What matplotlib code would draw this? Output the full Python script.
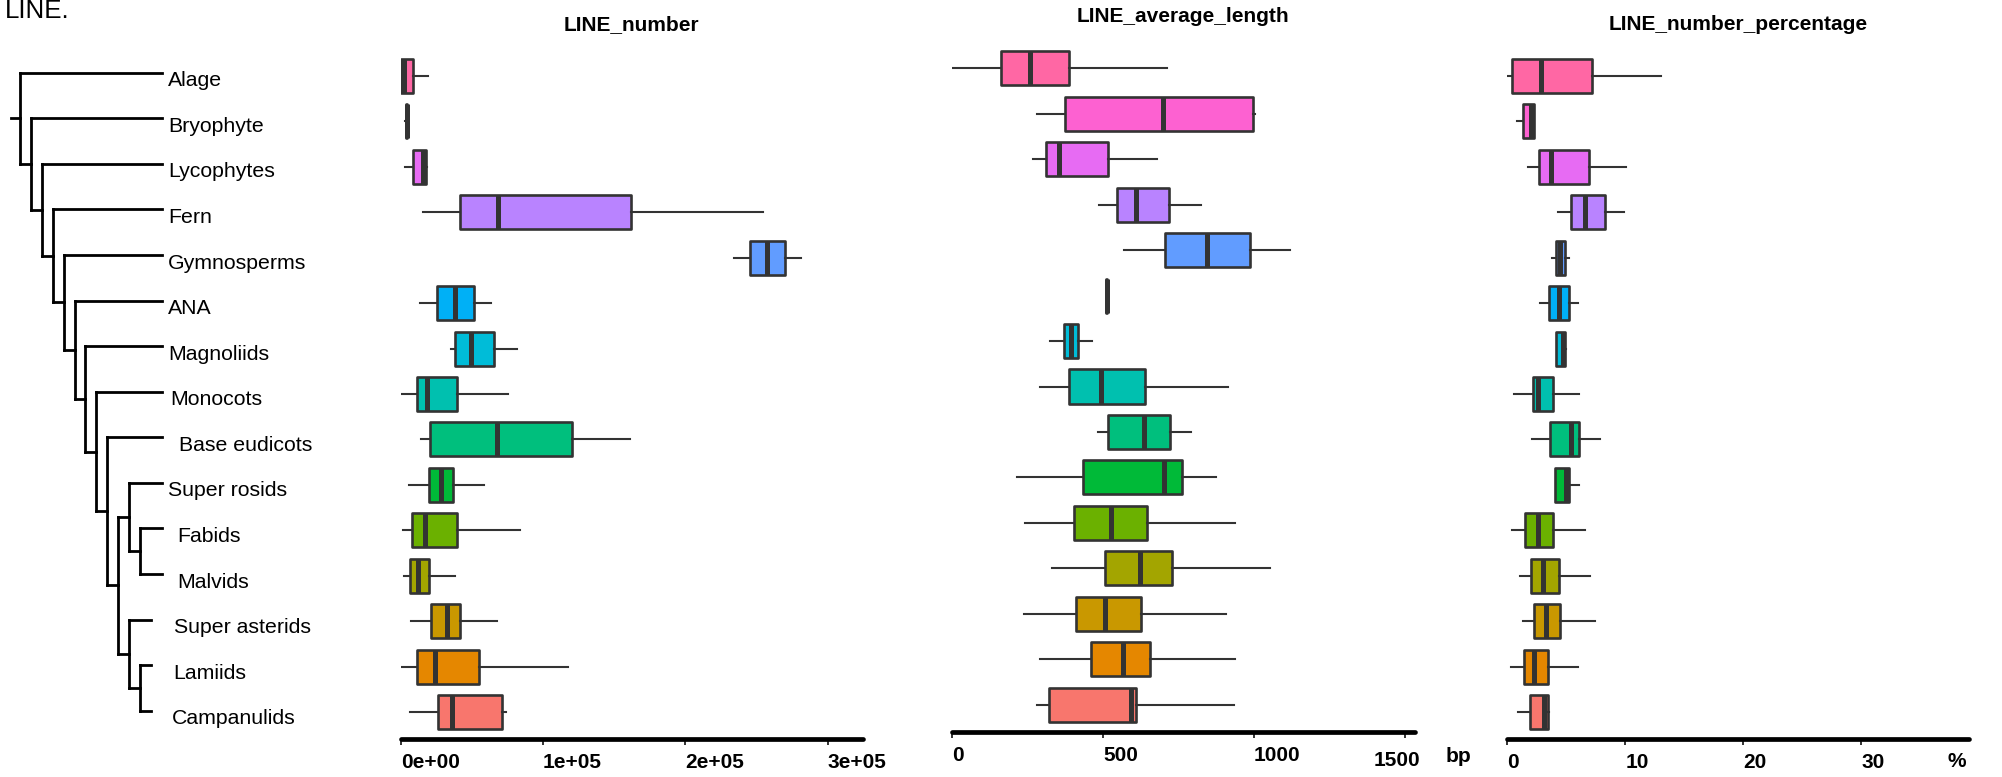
import numpy as np
import matplotlib.pyplot as plt

plt.rcParams['font.family'] = ['Liberation Sans', 'DejaVu Sans']

W, H = 2002, 777

clades = ["Alage", "Bryophyte", "Lycophytes", "Fern", "Gymnosperms", "ANA",
          "Magnoliids", "Monocots", "Base eudicots", "Super rosids", "Fabids",
          "Malvids", "Super asterids", "Lamiids", "Campanulids"]

colors = ["#FF67A4", "#FD61D1", "#E76BF3", "#B983FF", "#619CFF", "#00B0F6",
          "#00BCD8", "#00C0AF", "#00BF7D", "#00BA38", "#6BB100", "#A3A500",
          "#C99800", "#E58700", "#F8766D"]

# species tree (cladogram)
tree = ("Alage",
        ("Bryophyte",
         ("Lycophytes",
          ("Fern",
           ("Gymnosperms",
            ("ANA",
             ("Magnoliids",
              ("Monocots",
               ("Base eudicots",
                (("Super rosids", ("Fabids", "Malvids")),
                 ("Super asterids", ("Lamiids", "Campanulids"))))))))))))
short_tips = ["Super asterids", "Lamiids", "Campanulids"]

# box stats per clade: (whisker low, q1, median, q3, whisker high)
line_number = [
    (0, 500, 2000, 8500, 19500),
    (3300, 3500, 4300, 4600, 4800),
    (3000, 8600, 15900, 17800, 18700),
    (15900, 41600, 68500, 161700, 254200),
    (234300, 245300, 257500, 269900, 280900),
    (13600, 25700, 38400, 51500, 63200),
    (35300, 37900, 49200, 65800, 81900),
    (700, 11400, 18700, 39500, 75400),
    (14000, 20600, 67600, 120500, 160800),
    (6100, 19900, 28100, 36500, 58300),
    (1900, 8200, 17300, 39500, 84000),
    (2600, 6600, 12400, 20100, 37900),
    (7200, 21300, 32500, 41600, 67600),
    (400, 11200, 24100, 55200, 117500),
    (6500, 26000, 36000, 71100, 73700),
]

line_avg_length = [
    (2, 163, 260, 388, 712),
    (283, 374, 698, 996, 1004),
    (269, 310, 354, 517, 678),
    (487, 546, 610, 718, 824),
    (570, 707, 846, 986, 1121),
    (510, 511, 513, 515, 516),
    (325, 370, 394, 418, 463),
    (293, 387, 493, 639, 913),
    (483, 518, 635, 721, 793),
    (214, 433, 703, 761, 875),
    (243, 405, 528, 647, 938),
    (331, 506, 622, 729, 1052),
    (240, 412, 508, 625, 908),
    (290, 462, 565, 656, 937),
    (283, 321, 594, 608, 933),
]

line_pct = [
    (0.1, 0.4, 2.9, 7.2, 13.0),
    (0.8, 1.3, 2.0, 2.3, 2.3),
    (1.75, 2.7, 3.7, 6.9, 10.1),
    (4.3, 5.4, 6.6, 8.3, 9.9),
    (3.8, 4.1, 4.45, 4.9, 5.2),
    (2.8, 3.5, 4.4, 5.25, 6.0),
    (4.1, 4.1, 4.7, 4.9, 5.0),
    (0.6, 2.2, 2.65, 3.9, 6.1),
    (2.1, 3.6, 5.4, 6.1, 7.9),
    (4.05, 4.05, 5.0, 5.2, 6.1),
    (0.4, 1.5, 2.6, 3.85, 6.55),
    (1.05, 2.0, 3.05, 4.4, 7.05),
    (1.35, 2.3, 3.25, 4.45, 7.4),
    (0.3, 1.4, 2.3, 3.45, 6.0),
    (0.9, 1.9, 3.15, 3.45, 3.5),
]

number_ticks = [0, 100000, 200000, 300000]
number_labels = ["0e+00", "1e+05", "2e+05", "3e+05"]
length_ticks = [0, 500, 1000, 1500]
length_labels = ["0", "500", "1000", ""]
pct_ticks = [0, 10, 20, 30]
pct_labels = ["0", "10", "20", "30"]


def px_box(left, top, right, bottom):
    return [left / W, 1 - bottom / H, (right - left) / W, (bottom - top) / H]


fig = plt.figure(figsize=(W / 100, H / 100), dpi=100)

fig.text(5 / W, 1 - 18.3 / H, "LINE.", fontsize=18.7, ha="left", va="baseline")

# ---- tree ----
tax = fig.add_axes(px_box(0, 0, 300, H))
step = 10.9
tax.set_xlim(-20 / step, (300 - 20) / step)
tax.set_ylim((H - 72.7) / 45.57, -72.7 / 45.57)
tax.axis("off")
tip_depth = 13
tree_kw = dict(color="black", lw=2.0, solid_capstyle="projecting")


def draw_clade(node, depth):
    if isinstance(node, str):
        return clades.index(node)
    ys = []
    for child in node:
        y = draw_clade(child, depth + 1)
        if isinstance(child, str):
            x_end = tip_depth - (1 if child in short_tips else 0)
        else:
            x_end = depth + 1
        tax.plot([depth, x_end], [y, y], **tree_kw)
        ys.append(y)
    tax.plot([depth, depth], [min(ys), max(ys)], **tree_kw)
    return float(np.mean(ys))


root_y = draw_clade(tree, 0)
tax.plot([-0.83, 0], [root_y, root_y], **tree_kw)

nudge = {"Base eudicots": 8, "Fabids": 7, "Malvids": 7,
         "Super asterids": 4, "Lamiids": 4, "Campanulids": 3, "Monocots": 2}
for i, name in enumerate(clades):
    tax.annotate(name, xy=(tip_depth, i), xytext=(4.5 + nudge.get(name, 0), -5.8),
                 textcoords="offset points", ha="left", va="center", fontsize=15.3)


# ---- box panels ----
def box_panel(rect, stats, xmax, ticks, labels, title):
    ax = fig.add_axes(rect)
    bstats = [dict(whislo=s[0], q1=s[1], med=s[2], q3=s[3], whishi=s[4], fliers=[])
              for s in stats]
    bp = ax.bxp(bstats, positions=np.arange(1, len(stats) + 1), widths=0.75,
                orientation="horizontal", patch_artist=True,
                showcaps=False, showfliers=False,
                boxprops=dict(edgecolor="#333333", linewidth=1.9),
                medianprops=dict(color="#333333", linewidth=3.6,
                                 solid_capstyle="butt"),
                whiskerprops=dict(color="#333333", linewidth=1.5))
    for patch, c in zip(bp["boxes"], colors):
        patch.set_facecolor(c)
        patch.set_joinstyle("round")
    ax.set_ylim(len(stats) + 0.6, 0.4)
    ax.set_xlim(0, xmax)
    for side in ["top", "left", "right"]:
        ax.spines[side].set_visible(False)
    ax.spines["bottom"].set_linewidth(3.4)
    ax.spines["bottom"].set_color("black")
    ax.spines["bottom"].set_capstyle("round")
    ax.set_yticks([])
    ax.set_xticks(ticks)
    ax.set_xticklabels(labels)
    ax.tick_params(axis="x", direction="out", length=4, width=1.4,
                   color="#333333", pad=6, labelsize=15)
    for lab in ax.get_xticklabels():
        lab.set_fontweight("bold")
        lab.set_ha("left")
    ax.set_title(title, fontsize=15, fontweight="bold", pad=13.5)
    return ax


ax1 = box_panel(px_box(400.7, 48.7, 862.6, 739.3), line_number, 324400,
                number_ticks, number_labels, "LINE_number")
ax2 = box_panel(px_box(952, 41.2, 1414.7, 731.8), line_avg_length, 1533,
                length_ticks, length_labels, "LINE_average_length")
ax3 = box_panel(px_box(1507.2, 48.7, 1969.3, 739.3), line_pct, 39.13,
                pct_ticks, pct_labels, "LINE_number_percentage")

ax2.annotate("1500", xy=(1500, 0), xycoords=("data", "axes fraction"),
             xytext=(-5.8, -13.9), textcoords="offset points",
             ha="center", va="top", fontsize=15, fontweight="bold")
ax2.annotate("bp", xy=(1, 0), xycoords="axes fraction", xytext=(22.5, -11),
             textcoords="offset points", ha="left", va="top",
             fontsize=15, fontweight="bold")
ax3.annotate("%", xy=(1, 0), xycoords="axes fraction", xytext=(-15.8, -9.3),
             textcoords="offset points", ha="left", va="top",
             fontsize=15, fontweight="bold")

fig.savefig("out.png", dpi=100)
